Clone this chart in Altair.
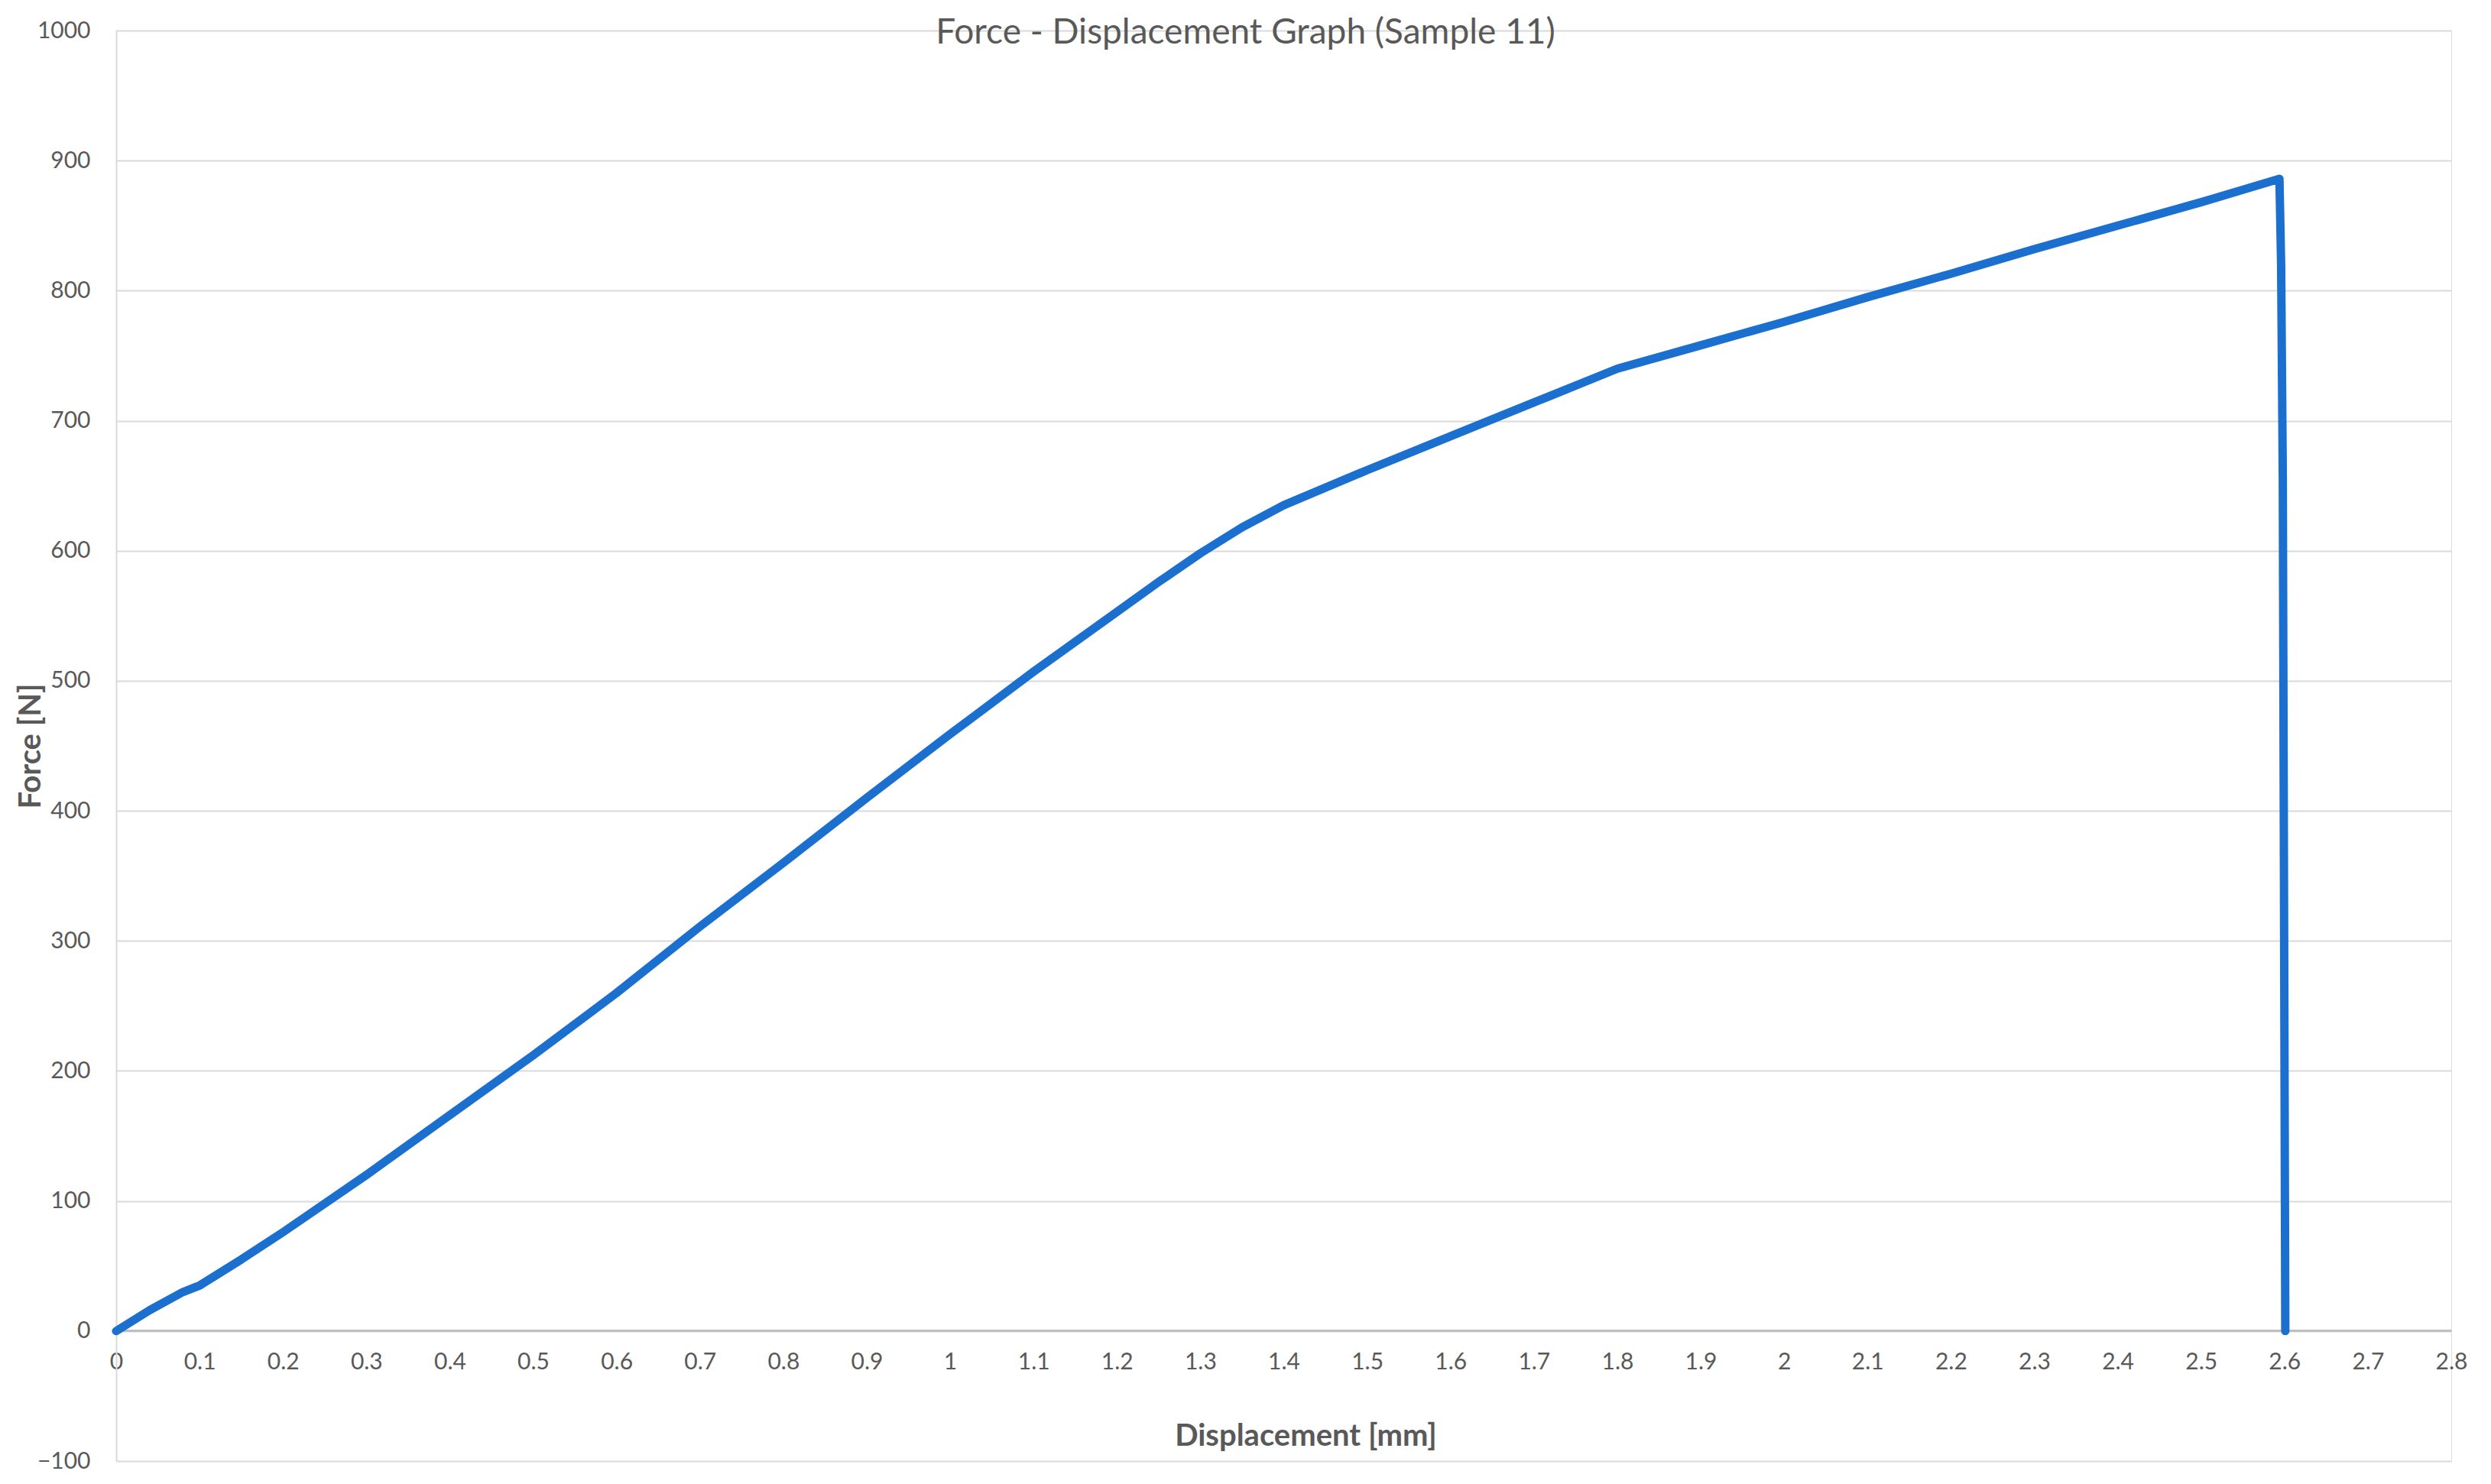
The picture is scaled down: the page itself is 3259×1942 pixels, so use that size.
import altair as alt
import pandas as pd

# Displacement [mm] and Force [N]
disp = [0.0, 0.04, 0.08, 0.10, 0.15, 0.20, 0.30, 0.40, 0.50, 0.60, 0.70, 0.80, 0.90,
        1.00, 1.10, 1.20, 1.25, 1.30, 1.35, 1.40, 1.50, 1.60, 1.70, 1.80, 1.90, 2.00, 2.10,
        2.20, 2.30, 2.40, 2.50, 2.594, 2.596, 2.598, 2.601]
force = [0, 16, 30, 35, 55, 76, 120, 166, 212, 260, 311, 360, 410,
         459, 507, 553, 576, 598, 618, 635, 662, 688, 714, 740, 758, 776, 795,
         813, 832, 850, 868, 886, 820, 655, 0]

x_ticks = [round(i * 0.1, 1) for i in range(29)]
y_ticks = list(range(-100, 1001, 100))

df = pd.DataFrame({"disp": disp, "force": force, "idx": list(range(len(disp)))})

FONT = "Lato"
GREY = "#595959"

line = alt.Chart(df).mark_line(
    color="#1b6fce", strokeWidth=11, strokeCap="round", strokeJoin="round"
).encode(
    x=alt.X("disp:Q",
            scale=alt.Scale(domain=[0, 2.8], nice=False, zero=False),
            axis=alt.Axis(
                title="Displacement [mm]", values=x_ticks, format="~g",
                grid=False, ticks=False, domain=True, domainColor="#bfbfbf",
                domainWidth=3, offset=-171, labelPadding=26, labelFlush=False,
                labelFont=FONT, labelFontSize=30, labelColor=GREY,
                titleFont=FONT, titleFontSize=40, titleFontWeight="bold",
                titleColor=GREY, titleX=1556, titleY=138, titleBaseline="middle",
                labelOverlap=False,
            )),
    y=alt.Y("force:Q",
            scale=alt.Scale(domain=[-100, 1000], nice=False, zero=False),
            axis=alt.Axis(
                title="Force [N]", values=y_ticks, format="d",
                grid=True, gridColor="#d9d9d9", gridWidth=2,
                ticks=False, domain=True, domainColor="#d9d9d9", domainWidth=2,
                labelPadding=34, labelFont=FONT, labelFontSize=30, labelColor=GREY,
                titleFont=FONT, titleFontSize=40, titleFontWeight="bold",
                titleColor=GREY, titleX=-112, titleBaseline="middle",
                labelOverlap=False,
            )),
    order="idx:Q",
)

chart = line.properties(
    width=3055,
    height=1872,
    padding={"left": 144, "top": 32, "right": 30, "bottom": 20},
    autosize=alt.AutoSizeParams(type="none"),
    title=alt.TitleParams(
        text="Force - Displacement Graph (Sample 11)",
        anchor="middle", frame="group", font=FONT, fontSize=46,
        fontWeight="normal", color=GREY, offset=0, baseline="middle",
        dx=-50, dy=64,
    ),
).configure_view(stroke=None).configure(background="white")

chart.save("out.html", embed_options={"renderer": "svg", "actions": False})
